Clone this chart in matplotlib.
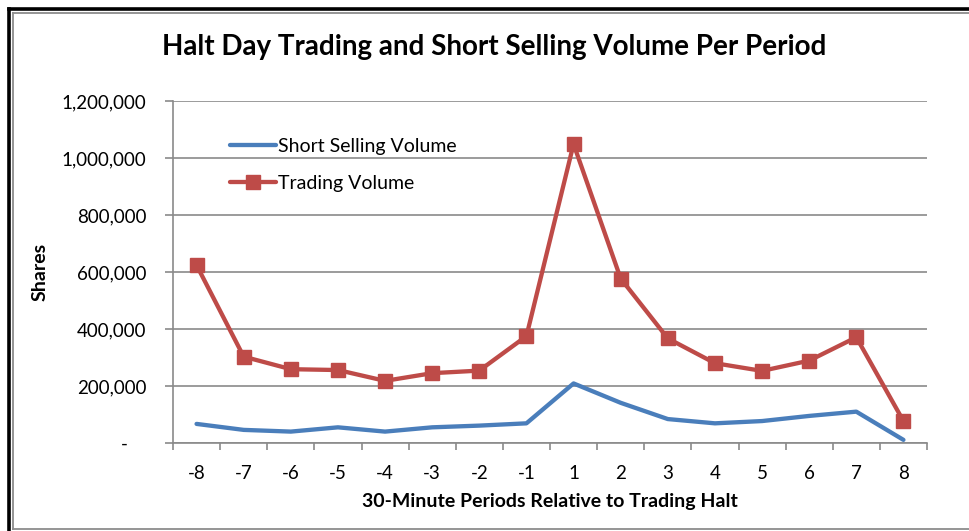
import matplotlib
matplotlib.use("Agg")
import matplotlib.pyplot as plt
from matplotlib.ticker import FuncFormatter, FixedLocator
from matplotlib.lines import Line2D

###### data
periods = ["-8", "-7", "-6", "-5", "-4", "-3", "-2", "-1",
           "1", "2", "3", "4", "5", "6", "7", "8"]
trading_volume = [624000, 303000, 259000, 256000, 218000, 245000, 254000, 375000,
                  1049000, 577000, 367000, 280000, 253000, 289000, 371000, 77000]
short_volume = [67000, 46000, 40000, 55000, 40000, 55000, 61000, 69000,
                209000, 141000, 84000, 69000, 77000, 95000, 110000, 11000]
y_ticks = [0, 200000, 400000, 600000, 800000, 1000000, 1200000]

plt.rcParams['font.family'] = ['Lato', 'DejaVu Sans']

W, H = 969, 531
fig = plt.figure(figsize=(W / 100, H / 100), dpi=100)

# outer frame (black top/left, gray inner line)
def px_line(x0, y0, x1, y1, color, lw):
    fig.add_artist(Line2D([x0 / W, x1 / W], [1 - y0 / H, 1 - y1 / H],
                          transform=fig.transFigure, color=color, lw=lw))

px_line(8.5, 9, W, 9, "black", 2.6)
px_line(8.5, 9, 8.5, H, "black", 2.6)
px_line(12.5, 12.5, W, 12.5, "#8c8c8c", 1.3)
px_line(12.5, 12.5, 12.5, 529, "#8c8c8c", 1.3)
px_line(12.5, 529, W, 529, "#8c8c8c", 1.3)

left, right, top, bottom = 173, 927, 101, 443
ax = fig.add_axes([left / W, (H - bottom) / H, (right - left) / W, (bottom - top) / H])

x = list(range(len(periods)))
ax.plot(x, short_volume, color="#4A7EBB", lw=3.1, label="Short Selling Volume",
        solid_joinstyle="round", solid_capstyle="round", zorder=3)
ax.plot(x, trading_volume, color="#BE4B48", lw=3.1, marker="s", markersize=10.5,
        label="Trading Volume", solid_joinstyle="round", solid_capstyle="round", zorder=4)

ax.set_xlim(-0.5, len(periods) - 0.5)
ax.set_ylim(0, 1200000)

grid_c = "#8a8a8a"
ax.set_yticks(y_ticks)
ax.yaxis.set_major_formatter(FuncFormatter(lambda v, p: "-    " if v == 0 else f"{int(v):,}"))
ax.grid(axis="y", color=grid_c, lw=1.2)
ax.set_axisbelow(True)

ax.set_xticks(x)
ax.set_xticklabels(periods)
ax.xaxis.set_minor_locator(FixedLocator([i - 0.5 for i in range(len(periods) + 1)]))
ax.tick_params(axis="x", which="major", length=0, pad=16, labelsize=13.5)
ax.tick_params(axis="x", which="minor", length=5, width=1.2, color=grid_c, direction="out")
ax.tick_params(axis="y", length=6, width=1.2, color=grid_c, pad=13, labelsize=13.5)

for s in ["top", "right"]:
    ax.spines[s].set_visible(False)
for s in ["left", "bottom"]:
    ax.spines[s].set_color(grid_c)
    ax.spines[s].set_linewidth(1.2)

ax.legend(loc="upper left", bbox_to_anchor=(0.065, 0.915), frameon=False,
          fontsize=14, handlelength=2.4, handletextpad=0.1, labelspacing=1.05,
          borderaxespad=0)

fig.text(494 / W, 1 - 47 / H, "Halt Day Trading and Short Selling Volume Per Period",
         ha="center", va="center", fontsize=20, fontweight="bold")
fig.text(550 / W, 1 - 502 / H, "30-Minute Periods Relative to Trading Halt",
         ha="center", va="center", fontsize=14, fontweight="bold")
fig.text(40 / W, 1 - 272 / H, "Shares", ha="center", va="center",
         rotation=90, fontsize=14, fontweight="bold")

fig.savefig("out.png", dpi=100)
